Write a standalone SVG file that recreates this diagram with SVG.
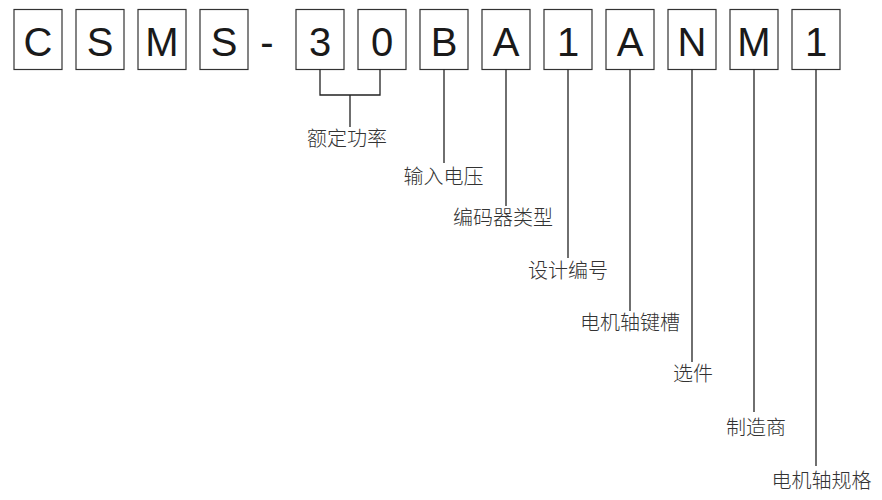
<svg xmlns="http://www.w3.org/2000/svg" width="882" height="500" viewBox="0 0 882 500">
<style>
.box{fill:#fff;stroke:#333;stroke-width:1.2}
.ch{font-family:"Liberation Sans",Arial,sans-serif;font-size:40px;fill:#1a1a1a;text-anchor:middle}
.lb{font-family:"Noto Sans CJK SC","Noto Sans",sans-serif;font-size:20px;fill:#333;text-anchor:middle;font-weight:300}
.ln{fill:none;stroke:#222;stroke-width:1.3}
</style>
<rect width="882" height="500" fill="#fff"/>
<g id="code">
<g id="c1"><rect class="box" x="14" y="9.5" width="48" height="60"/><text class="ch" x="38" y="56">C</text></g>
<g id="c2"><rect class="box" x="76" y="9.5" width="48" height="60"/><text class="ch" x="100" y="56">S</text></g>
<g id="c3"><rect class="box" x="138" y="9.5" width="48" height="60"/><text class="ch" x="162" y="56">M</text></g>
<g id="c4"><rect class="box" x="200" y="9.5" width="48" height="60"/><text class="ch" x="224" y="56">S</text></g>
<g id="dash"><text class="ch" x="267" y="56">-</text></g>
<g id="c5"><rect class="box" x="296" y="9.5" width="48" height="60"/><text class="ch" x="320" y="56">3</text></g>
<g id="c6"><rect class="box" x="358" y="9.5" width="48" height="60"/><text class="ch" x="382" y="56">0</text></g>
<g id="c7"><rect class="box" x="420" y="9.5" width="48" height="60"/><text class="ch" x="444" y="56">B</text></g>
<g id="c8"><rect class="box" x="482" y="9.5" width="48" height="60"/><text class="ch" x="506" y="56">A</text></g>
<g id="c9"><rect class="box" x="544" y="9.5" width="48" height="60"/><text class="ch" x="568" y="56">1</text></g>
<g id="c10"><rect class="box" x="606" y="9.5" width="48" height="60"/><text class="ch" x="630" y="56">A</text></g>
<g id="c11"><rect class="box" x="668" y="9.5" width="48" height="60"/><text class="ch" x="692" y="56">N</text></g>
<g id="c12"><rect class="box" x="730" y="9.5" width="48" height="60"/><text class="ch" x="754" y="56">M</text></g>
<g id="c13"><rect class="box" x="792" y="9.5" width="48" height="60"/><text class="ch" x="816" y="56">1</text></g>
</g>
<g id="connectors">
<path class="ln" d="M320 69.5V95H380V69.5M350 95V127"/>
<path class="ln" d="M444 69.5V163"/>
<path class="ln" d="M506 69.5V206"/>
<path class="ln" d="M568 69.5V258"/>
<path class="ln" d="M630 69.5V311"/>
<path class="ln" d="M692 69.5V362"/>
<path class="ln" d="M754 69.5V412"/>
<path class="ln" d="M816 69.5V466"/>
</g>
<g id="l1"><text class="lb" x="347" y="146">额定功率</text></g>
<g id="l2"><text class="lb" x="443.5" y="184">输入电压</text></g>
<g id="l3"><text class="lb" x="503" y="225">编码器类型</text></g>
<g id="l4"><text class="lb" x="568" y="278">设计编号</text></g>
<g id="l5"><text class="lb" x="630" y="330">电机轴键槽</text></g>
<g id="l6"><text class="lb" x="693" y="381">选件</text></g>
<g id="l7"><text class="lb" x="756" y="435">制造商</text></g>
<g id="l8"><text class="lb" x="821.5" y="488">电机轴规格</text></g>
</svg>
